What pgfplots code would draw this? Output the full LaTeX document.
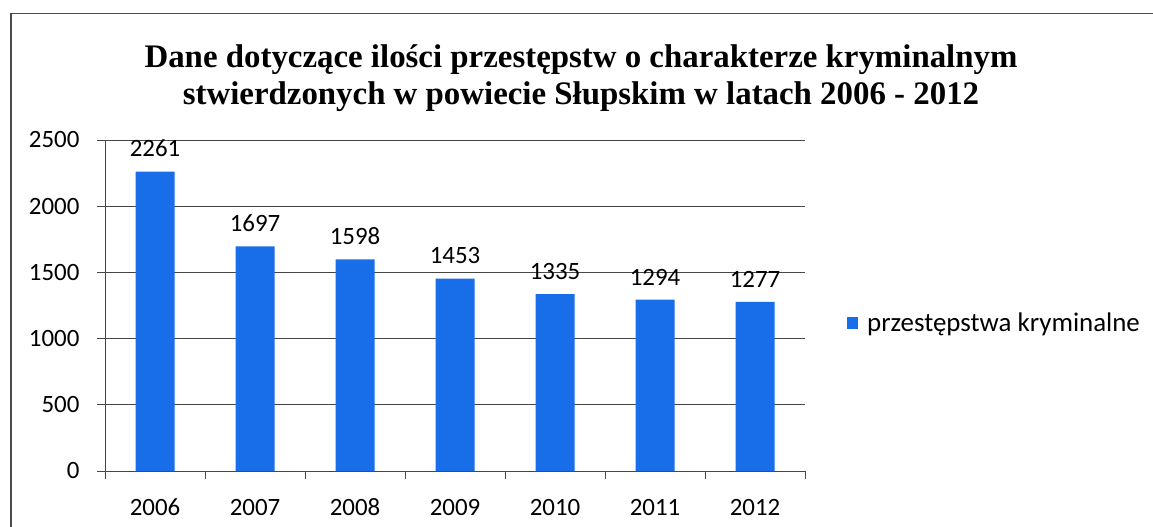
\documentclass[border=0pt]{standalone}
\usepackage{pgfplots}
\pgfplotsset{compat=1.18}
\usepackage{fontspec}
\setmainfont{Carlito}
\newfontfamily\titlefont{Liberation Serif}
\definecolor{barblue}{RGB}{24,110,232}
\definecolor{gridc}{RGB}{70,70,70}
\begin{document}
\begin{tikzpicture}
\path[use as bounding box] (0bp,0bp) rectangle (1153bp,527bp);
\draw[gray!60!black, line width=1.3bp] (11bp,-10bp) -- (11bp,513.5bp) -- (1165bp,513.5bp);
\begin{axis}[
  at={(105bp,56bp)}, anchor=south west,
  scale only axis, width=700bp, height=331bp,
  xmin=-0.5, xmax=6.5, ymin=0, ymax=2500,
  axis x line*=bottom, axis y line*=left,
  axis line style={gridc, line width=0.9bp, -},
  ytick={0,500,...,2500},
  xtick={0,...,6},
  xticklabels={2006,2007,2008,2009,2010,2011,2012},
  minor xtick={-0.5,0.5,...,6.5},
  tick align=outside,
  major tick length=8bp, minor tick length=8bp,
  x tick style={draw=none},
  minor x tick style={draw=gridc, line width=0.9bp},
  y tick style={gridc, line width=0.9bp},
  ymajorgrids,
  grid style={gridc, line width=0.9bp},
  tick label style={font=\fontsize{25}{29}\selectfont},
  /pgf/number format/assume math mode=true,
  /pgf/number format/1000 sep={},
  yticklabel style={xshift=-14bp},
  xticklabel style={yshift=-17bp, text height=16bp, text depth=0bp},
  ybar, bar width=39bp,
  nodes near coords,
  every node near coord/.append style={font=\fontsize{25}{29}\selectfont, yshift=11bp, /pgf/number format/assume math mode=true},
  legend style={at={(1.06,0.447)}, anchor=west, draw=none, fill=none, inner sep=0pt,
    font=\fontsize{27}{31}\selectfont, nodes={inner xsep=9bp}},
  legend image code/.code={\fill[barblue] (0bp,-6bp) rectangle (11bp,6bp);},
]
\addplot[fill=barblue, draw=none] coordinates {(0,2261) (1,1697) (2,1598) (3,1453) (4,1335) (5,1294) (6,1277)};
\addlegendentry{przestępstwa kryminalne}
\end{axis}
\node[anchor=north, align=center, inner sep=0pt, font=\titlefont\bfseries\fontsize{33}{37.5}\selectfont] at (581bp,483bp)
 {Dane dotyczące ilości przestępstw o charakterze kryminalnym\\stwierdzonych w powiecie Słupskim w latach 2006 - 2012};
\end{tikzpicture}
\end{document}
